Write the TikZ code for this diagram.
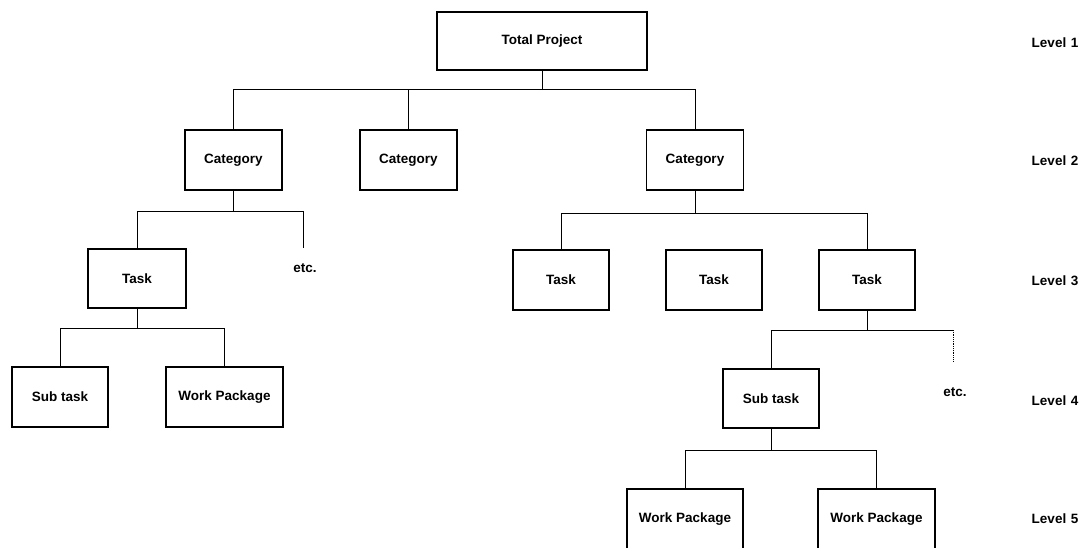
\documentclass[tikz,border=0pt]{standalone}
\usepackage{fontspec}
\setmainfont{Liberation Sans}
\begin{document}
\begin{tikzpicture}[x=1pt,y=-1pt,
  box/.style={draw, line width=1.2pt, minimum height=60pt, inner sep=0pt, font=\bfseries\fontsize{13.5}{16}\selectfont},
  lbl/.style={inner sep=0pt, font=\bfseries\fontsize{13.5}{16}\selectfont},
  conn/.style={line width=0.8pt}]
\useasboundingbox (0,0) rectangle (1088,547);
% level 1
\node[box, minimum width=210pt, minimum height=58pt] (tp) at (542,41) {Total Project};
% level 2
\node[box, minimum width=97pt] (c1) at (233.5,160) {Category};
\node[box, minimum width=97pt] (c2) at (408.5,160) {Category};
\node[box, minimum width=97pt] (c3) at (695,160) {Category};
% level 3
\node[box, minimum width=98pt, minimum height=59pt] (t1) at (137,278.5) {Task};
\node[lbl] (e1) at (305,268) {etc.};
\node[box, minimum width=96pt] (t2) at (561,280) {Task};
\node[box, minimum width=96pt] (t3) at (714,280) {Task};
\node[box, minimum width=96pt] (t4) at (867,280) {Task};
% level 4
\node[box, minimum width=96pt] (s1) at (60,397) {Sub task};
\node[box, minimum width=117pt] (w1) at (224.5,397) {Work Package};
\node[box, minimum width=96pt, minimum height=59pt] (s2) at (771,398.5) {Sub task};
\node[lbl] (e2) at (955,392) {etc.};
% level 5
\node[box, minimum width=116pt] (w2) at (685,519) {Work Package};
\node[box, minimum width=117pt] (w3) at (876.5,519) {Work Package};
% level labels
\node[lbl] (l1) at (1055,43) {Level\,\,1};
\node[lbl] (l2) at (1055,161) {Level\,\,2};
\node[lbl] (l3) at (1055,281) {Level\,\,3};
\node[lbl] (l4) at (1055,401) {Level\,\,4};
\node[lbl] (l5) at (1055,519) {Level\,\,5};
% bus levels
\coordinate (b1) at (0,89);
\coordinate (b2) at (0,211);
\coordinate (b3) at (0,213);
\coordinate (b4) at (0,328);
\coordinate (b5) at (0,330);
\coordinate (b6) at (0,450);
\coordinate (e1top) at (303,248);
\coordinate (e2top) at (953,361);
% connectors
\draw[conn] (tp.south) -- (tp.south |- b1) -| (c1.north);
\draw[conn] (tp.south) -- (tp.south |- b1) -| (c2.north);
\draw[conn] (tp.south) -- (tp.south |- b1) -| (c3.north);
\draw[conn] (c1.south) -- (c1.south |- b2) -| (t1.north);
\draw[conn] (c1.south) -- (c1.south |- b2) -| (e1top);
\draw[conn] (c3.south) -- (c3.south |- b3) -| (t2.north);
\draw[conn] (c3.south) -- (c3.south |- b3) -| (t4.north);
\draw[conn] (t1.south) -- (t1.south |- b4) -| (s1.north);
\draw[conn] (t1.south) -- (t1.south |- b4) -| (w1.north);
\draw[conn] (t4.south) -- (t4.south |- b5) -| (s2.north);
\draw[conn] (t4.south |- b5) -- (e2top |- b5);
\draw[conn, densely dotted] (e2top |- b5) -- (e2top);
\draw[conn] (s2.south) -- (s2.south |- b6) -| (w2.north);
\draw[conn] (s2.south) -- (s2.south |- b6) -| (w3.north);
\end{tikzpicture}
\end{document}
